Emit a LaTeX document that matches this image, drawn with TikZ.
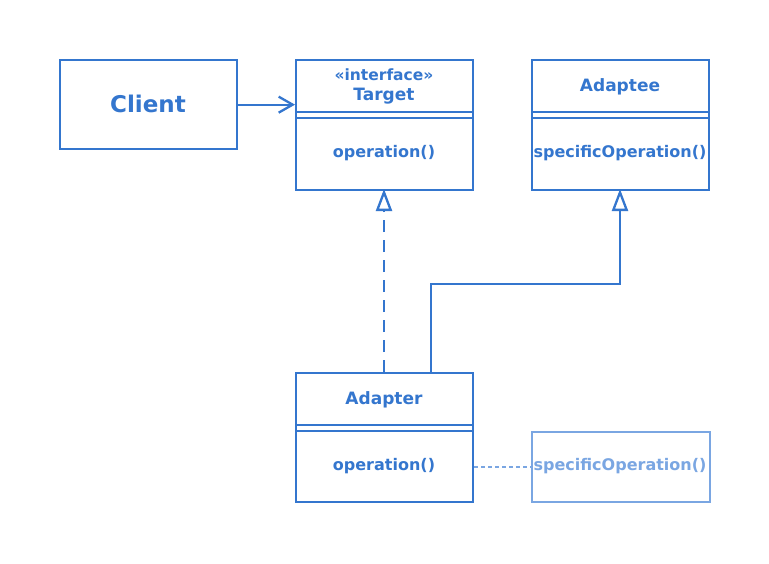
\documentclass[tikz,border=0pt]{standalone}
\usepackage{fontspec}
\setmainfont{DejaVu Sans}
\usetikzlibrary{arrows.meta}
\definecolor{umlblue}{RGB}{52,118,206}
\definecolor{umllight}{RGB}{122,166,226}
\begin{document}
\begin{tikzpicture}[x=1pt,y=-1pt,
  box/.style={draw=umlblue, line width=2.3pt, minimum width=177pt, inner sep=0pt, anchor=north west},
  lbl/.style={text=umlblue, font=\bfseries\fontsize{16}{19}\selectfont, inner sep=0pt},
  title/.style={lbl, font=\bfseries\fontsize{17}{20}\selectfont},
  divider/.style={draw=umlblue, line width=1.3pt},
  conn/.style={draw=umlblue, line width=2.3pt},
  realize/.style={conn, dash pattern=on 12pt off 8pt, -{Triangle[open, length=22pt, width=16pt, fill=white, line width=2.3pt]}},
  inherit/.style={conn, -{Triangle[open, length=22pt, width=16pt, fill=white, line width=2.3pt]}}]
\useasboundingbox (0,0) rectangle (769,563);
\fill[white] (0,0) rectangle (769,563);
% Client
\node[box, minimum height=89pt] (client) at (59,59) {};
\node[lbl, font=\bfseries\fontsize{23}{27}\selectfont] (clientT) at (148,103.5) {Client};
% Target
\node[box, minimum height=130pt] (target) at (295,59) {};
\node[lbl, font=\bfseries\fontsize{15.5}{18}\selectfont] (stereo) at (384,75) {«interface»};
\node[title] (targetT) at (384,96.5) {Target};
\draw[divider] (295,112) -- (472,112);
\draw[divider] (295,118) -- (472,118);
\node[lbl] (targetOp) at (384,153.5) {operation()};
% Adaptee
\node[box, minimum height=130pt] (adaptee) at (531,59) {};
\node[title] (adapteeT) at (620,86.5) {Adaptee};
\draw[divider] (531,112) -- (709,112);
\draw[divider] (531,118) -- (709,118);
\node[lbl] (adapteeOp) at (620,153.5) {specificOperation()};
% Adapter
\node[box, minimum height=129pt] (adapter) at (295,372) {};
\node[title] (adapterT) at (384,399.5) {Adapter};
\draw[divider] (295,425) -- (472,425);
\draw[divider] (295,431) -- (472,431);
\node[lbl] (adapterOp) at (384,466.5) {operation()};
% Note box
\node[box, draw=umllight, minimum width=178pt, minimum height=70pt] (note) at (531,431) {};
\node[lbl, text=umllight] (noteOp) at (620,466.5) {specificOperation()};
% connectors
\coordinate (tIn) at (384,189);
\coordinate (aOut) at (384,372);
\coordinate (bOut) at (431,372);
\coordinate (bend1) at (431,284);
\coordinate (bend2) at (620,284);
\coordinate (eIn) at (620,189);
\draw[conn, -{Straight Barb[length=14pt, width=16pt, line width=2.3pt]}] (client.east) -- (client.east -| target.west);
\draw[realize] (aOut) -- (tIn);
\draw[inherit] (bOut) -- (bend1) -- (bend2) -- (eIn);
\draw[draw=umllight, line width=2pt, dash pattern=on 4pt off 3pt] (adapter.east |- adapterOp) -- (note.west |- noteOp);
\end{tikzpicture}
\end{document}
